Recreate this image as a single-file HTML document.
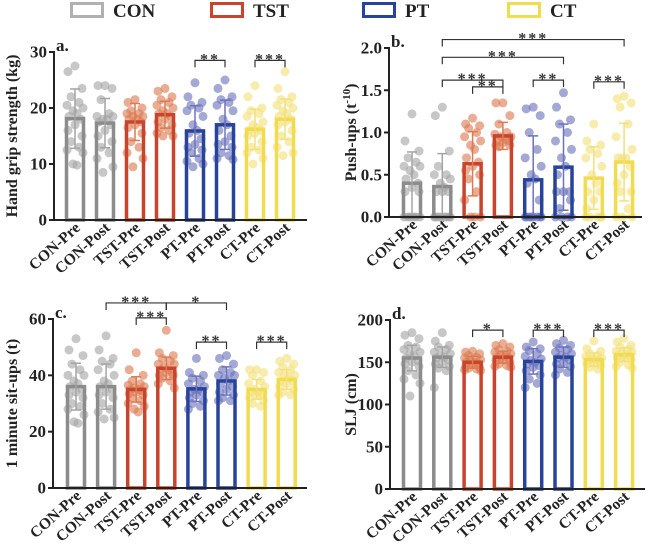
<!DOCTYPE html>
<html><head><meta charset="utf-8"><style>
html,body{margin:0;padding:0;background:#fff;}
svg{display:block;font-family:"Liberation Serif",serif;font-weight:bold;}
</style></head><body>
<svg id="chart" width="669" height="557" viewBox="0 0 669 557"></svg>
<script>
const categories=["CON-Pre","CON-Post","TST-Pre","TST-Post","PT-Pre","PT-Post","CT-Pre","CT-Post"];
const groupNames=["CON","TST","PT","CT"];
const barColors=["#8c8c8c","#c8442c","#27449a","#f0dc4e"];
const dotColors=["#a4a4a4","#dc7a52","#6c72bb","#f3e07a"];

const meansA=[18.1,17.3,17.5,18.8,15.9,17.0,16.2,18.0];
const sdA=[5.3,4.4,3.3,2.4,4.5,4.4,3.6,3.6];
const meansB=[0.40,0.36,0.63,0.96,0.44,0.59,0.46,0.65];
const sdB=[0.37,0.39,0.38,0.16,0.52,0.51,0.37,0.46];
const meansC=[36,36,35,42.5,35.2,38,35,38.5];
const sdC=[8.3,8,4.5,4,4.5,5,3.5,3.5];
const meansD=[155,156,150,156,151,156,153,159];
const sdD=[15,12,7,7,15,12,8,8];

const dotsA=[[27.5,26.5,23.5,22,21,20.5,20,19.5,19,18.5,18,17,16,15,14,13,12.5,12,10,9.8],
[24,24,23.5,21.5,19,18.5,18.5,18,18,17.5,17,16,15,14,13,12,11,9.5,8.5],
[21.5,21,20,19.5,19,19,18.5,18.5,18,18,17.5,17,16.5,15.5,14,13,12,11,9.5],
[23.5,23,22,21.5,21,20.5,20,19.5,19,19,18.5,18,17.5,17,16.5,16,15.5,15,15],
[24.5,22,21,20.5,20,19.5,18.5,17,16,15.5,14.5,13.5,13,12.5,12,11,10.5,10,9.5],
[25,23.5,22,21.5,21,20.5,19.5,18,17,16,15,14,13.5,13,12,11.5,11,10.8],
[24,22,20,19.5,19,18.5,17.5,17,16.5,16,16,15.5,15,14,13,12.5,12,11,10],
[26.5,23.5,22,21.5,21,20.5,20,19.5,19,18.5,18,17.5,17,16,15,14,13,12,11.5]];
const dotsB=[[1.22,0.9,0.78,0.7,0.65,0.6,0.6,0.55,0.5,0.45,0.4,0.35,0.3,0.3,0,0,0,0,0,0],
[1.3,1.2,0.78,0.6,0.5,0.5,0.45,0.4,0.35,0.3,0.3,0.3,0,0,0,0,0,0,0,0],
[1.17,1.1,1.08,1.05,1,0.95,0.9,0.85,0.8,0.7,0.65,0.6,0.55,0.5,0.45,0.3,0.2,0,0,0],
[1.35,1.35,1.2,1.1,1.0,0.98,0.95,0.95,0.92,0.9,0.9,0.88,0.85,0.85,0.83],
[1.3,1.28,1.2,1,0.8,0.7,0.6,0.5,0.45,0.4,0.2,0,0,0,0,0,0,0,0],
[1.47,1.3,1.15,1.1,1,0.9,0.8,0.7,0.6,0.5,0.3,0.3,0.3,0.2,0.1,0,0,0,0],
[1.1,0.9,0.85,0.8,0.75,0.7,0.6,0.5,0.4,0.3,0.3,0.2,0.1,0,0,0,0,0],
[1.43,1.4,1.35,1.3,1.1,0.95,0.8,0.7,0.7,0.7,0.6,0.5,0.4,0.3,0.3,0.1,0,0,0]];
const dotsC=[[53,49,47,44,42,40,40,38,37,36,35,34,33,32,30,29,28,26,23.5,23],
[54,49,46,45,44,42,40,38,37,36,35,34,33,32,30,28,27,25,24.5],
[48,42,40,38,37,36.5,36,35.5,35,35,34.5,34,33.5,33,32,31,30,29,28,27],
[56,48,47,46,45,44,44,43,42,42,41,41,40,40,39,38,37,35.5],
[46,41,40,39,38,37,36,35,35,34,34,33,32,31,30,29,28],
[47,46,44,42,41,40,40,39,38,37,36,35,34,33,32,31,31],
[42,42,41,40,38,37,36,35,34,34,33,33,32,31,30,29],
[46,45,44,43,42,41,40,40,39,38,38,37,36,35,34,33,33]];
const dotsD=[[185,182,178,170,168,165,162,160,158,155,152,150,148,145,140,135,130,125,110],
[185,175,170,168,165,162,160,158,156,155,153,150,148,145,143,140,120],
[163,162,160,158,156,155,153,152,150,150,148,147,145,144,143,142,141,140],
[172,170,168,165,163,162,160,158,157,156,155,153,152,150,148,146,145,144],
[174,168,166,164,160,157,154,152,150,148,146,144,140,135,130,125,120],
[176,172,170,167,165,162,160,158,156,155,153,150,148,145,142,138,135],
[175,166,163,160,158,157,155,154,153,152,151,150,148,146,144,142],
[178,174,170,168,165,163,162,160,159,158,157,156,155,153,150,147,145,143]];

const ticksA=[0,10,20,30], ticksB=[0,0.5,1.0,1.5,2.0], ticksC=[0,20,40,60], ticksD=[0,50,100,150,200];
const ticksBLabels=["0.0","0.5","1.0","1.5","2.0"];
const brA=[[4,5,28.5,"**"],[6,7,28.5,"***"]];
const brB=[[1,7,2.1,"***"],[1,5,1.89,"***"],[1,3,1.62,"***"],[2,3,1.54,"**"],[4,5,1.62,"**"],[6,7,1.6,"***"]];
const brC=[[1,3,65.7,"***"],[3,5,65.7,"*"],[2,3,60.4,"***"],[4,5,51.8,"**"],[6,7,51.8,"***"]];
const brD=[[2,3,188,"*"],[4,5,188,"***"],[6,7,188,"***"]];

const NS="http://www.w3.org/2000/svg";
const svg=document.getElementById("chart");
function el(tag,attrs,parent){const e=document.createElementNS(NS,tag);for(const k in attrs)e.setAttribute(k,attrs[k]);(parent||svg).appendChild(e);return e;}

const legX=[70,210,362,507];
groupNames.forEach((g,i)=>{
  const lg=el("g",{});
  
  
  el("rect",{x:legX[i]+1.5,y:3.5,width:31,height:13,fill:"none",stroke:i==0?"#b0b0b0":barColors[i],"stroke-width":3},lg);
  const t=el("text",{x:legX[i]+43,y:17,"font-size":19,fill:"#222"},lg);t.textContent=g;
});

function panel(cfg){
  const g=el("g",{});
  
  
  const yS=v=>cfg.y0+(cfg.y1-cfg.y0)*(v-cfg.vmin)/(cfg.vmax-cfg.vmin);
  const xS=i=>cfg.x0+cfg.step*i;
  const bw=17;
  cfg.dots.forEach((arr,i)=>{
    const c=dotColors[Math.floor(i/2)];
    arr.forEach((v,j)=>{
      const off=[0,-7,7,-4,4,-8,8,-2,2,-6,6][j%11];
      const d=el("circle",{cx:xS(i)+off,cy:yS(v),r:4.5,fill:c,"fill-opacity":0.62},g);
      
      
    });
  });
  cfg.means.forEach((m,i)=>{
    const c=barColors[Math.floor(i/2)];
    const r=el("rect",{x:xS(i)-bw/2,y:yS(m),width:bw,height:yS(0)-yS(m),fill:"none",stroke:c,"stroke-width":3.5},g);
    
    
  });
  cfg.means.forEach((m,i)=>{
    const c=dotColors[Math.floor(i/2)];
    const lo=Math.max(cfg.vmin,m-cfg.sd[i]),hi=m+cfg.sd[i];
    el("line",{x1:xS(i),x2:xS(i),y1:yS(lo),y2:yS(hi),stroke:c,"stroke-width":1.5},g);
    el("line",{x1:xS(i)-5,x2:xS(i)+5,y1:yS(hi),y2:yS(hi),stroke:c,"stroke-width":1.5},g);
    el("line",{x1:xS(i)-5,x2:xS(i)+5,y1:yS(lo),y2:yS(lo),stroke:c,"stroke-width":1.5},g);
  });
  el("line",{x1:cfg.ax,x2:cfg.ax,y1:yS(cfg.vmax)-1,y2:yS(0)+1,stroke:"#222","stroke-width":2},g);
  el("line",{x1:cfg.ax-1,x2:cfg.xend,y1:yS(0),y2:yS(0),stroke:"#222","stroke-width":2},g);
  cfg.ticks.forEach((t,k)=>{
    el("line",{x1:cfg.ax-5,x2:cfg.ax,y1:yS(t),y2:yS(t),stroke:"#222","stroke-width":2},g);
    const tx=el("text",{x:cfg.ax-7,y:yS(t)+5.5,"font-size":17,"text-anchor":"end",fill:"#222"},g);
    tx.textContent=cfg.tickLabels?cfg.tickLabels[k]:t;
  });
  const lt=el("text",{x:cfg.ax+2,y:yS(cfg.vmax)-1,"font-size":17,fill:"#222"},g);lt.textContent=cfg.letter+".";
  const yt=el("text",{transform:`translate(${cfg.titleX},${(yS(0)+yS(cfg.vmax))/2}) rotate(-90)`,"font-size":16,"text-anchor":"middle",fill:"#222"},g);
  yt.innerHTML=cfg.title;
  
  
  categories.forEach((c,i)=>{
    const t=el("text",{transform:`translate(${xS(i)+6},${yS(0)+9}) rotate(-42)`,"font-size":15.5,"text-anchor":"end",fill:"#222"},g);
    t.textContent=c;
    
    
  });
  cfg.br.forEach(b=>{
    const y=yS(b[2]);
    el("path",{d:`M${xS(b[0])},${y+7}V${y}H${xS(b[1])}V${y+7}`,fill:"none",stroke:"#333","stroke-width":1.2},g);
    const s=el("text",{x:(xS(b[0])+xS(b[1]))/2,y:y+4,"font-size":16,"text-anchor":"middle",fill:"#333","letter-spacing":2},g);
    s.textContent=b[3];
    
    
  });
}

panel({letter:"a",x0:75,step:30,ax:54,xend:307,y0:220,y1:52,vmin:0,vmax:30,ticks:ticksA,means:meansA,sd:sdA,dots:dotsA,br:brA,title:"Hand grip strength (kg)",titleX:17});
panel({letter:"b",x0:412,step:30.3,ax:389,xend:642,y0:217,y1:48,vmin:0,vmax:2,ticks:ticksB,tickLabels:ticksBLabels,means:meansB,sd:sdB,dots:dotsB,br:brB,title:'Push-ups (t<tspan dy="-6" font-size="11">-10</tspan><tspan dy="6">)</tspan>',titleX:356});
panel({letter:"c",x0:76,step:30.1,ax:53,xend:307,y0:488,y1:319,vmin:0,vmax:60,ticks:ticksC,means:meansC,sd:sdC,dots:dotsC,br:brC,title:"1 minute sit-ups (t)",titleX:17});
panel({letter:"d",x0:412,step:30.3,ax:390,xend:645,y0:489,y1:320,vmin:0,vmax:200,ticks:ticksD,means:meansD,sd:sdD,dots:dotsD,br:brD,title:"SLJ (cm)",titleX:356});
</script>
</body></html>
